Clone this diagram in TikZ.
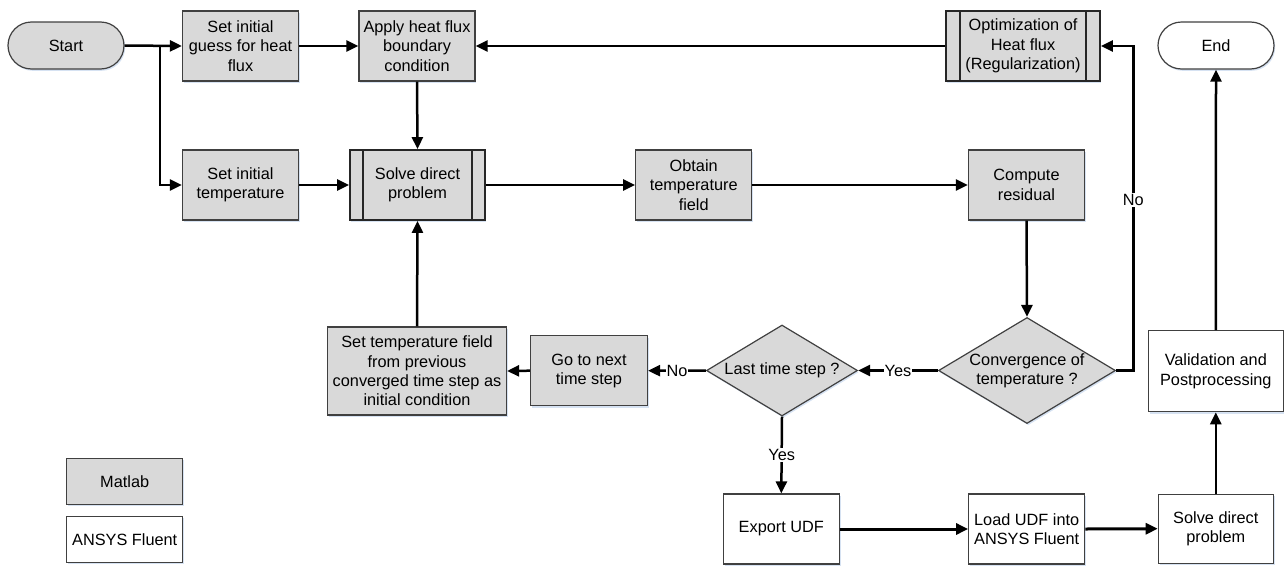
\documentclass[tikz,border=0pt]{standalone}
\usepackage{fontspec}
\setmainfont{Liberation Sans}
\usetikzlibrary{arrows.meta,shapes.geometric,calc,shadows}
\definecolor{boxgray}{RGB}{217,217,217}
\definecolor{edgegray}{RGB}{64,64,64}
\definecolor{shadowblue}{RGB}{214,226,242}
\begin{document}
\begin{tikzpicture}[x=1pt,y=-1pt, font=\fontsize{16.3}{19.3}\selectfont,
  shd/.style={drop shadow={shadow xshift=1.2pt, shadow yshift=-1.8pt, fill=shadowblue, opacity=1}},
  box/.style={draw=edgegray, line width=1.2pt, fill=boxgray, minimum width=116pt, minimum height=70pt, inner sep=2pt, align=center, shd},
  fbox/.style={box, fill=white},
  subp/.style={box, line width=1.8pt, draw=black!85},
  term/.style={draw=edgegray, line width=1.2pt, minimum width=116pt, minimum height=47pt, rounded corners=23.5pt, align=center, shd},
  dec/.style={diamond, draw=edgegray, line width=1.2pt, fill=boxgray, inner sep=0pt, align=center, shd},
  arr/.style={line width=2.5pt, -{Triangle[length=12pt,width=11pt]}},
  barr/.style={arr, line width=3pt},
  lab/.style={fill=white, inner sep=1pt}
]
\useasboundingbox (0,0) rectangle (1284,565);

% nodes
\node[term, fill=boxgray] (start) at (66,45.5) {Start};
\node[term, fill=white] (end) at (1216,45.5) {End};
\node[box] (guess) at (240.5,46) {Set initial\\guess for heat\\flux};
\node[box] (apply) at (417,46) {Apply heat flux\\boundary\\condition};
\node[subp, minimum width=154pt] (optim) at (1023,46) {Optimization of\\Heat flux\\(Regularization)};
\node[box] (settemp) at (240.5,185) {Set initial\\temperature};
\node[subp, minimum width=135pt] (solve) at (417.5,185) {Solve direct\\problem};
\node[box] (obtain) at (693.7,185) {Obtain\\temperature\\field};
\node[box] (resid) at (1026.5,185) {Compute\\residual};
\node[dec, aspect=1.67, minimum width=177pt, minimum height=106pt] (conv) at (1027,370.5) {Convergence of\\temperature ?};
\node[dec, aspect=1.66, minimum width=151pt, minimum height=91pt] (last) at (782,370.5) {Last time step ?};
\node[box, minimum width=117pt] (gonext) at (589,370.7) {Go to next\\time step};
\node[box, minimum width=179pt, minimum height=88pt] (setfield) at (417,371) {Set temperature field\\from previous\\converged time step as\\initial condition};
\node[fbox] (export) at (781.3,529) {Export UDF};
\node[fbox] (load) at (1026.7,529) {Load UDF into\\ANSYS Fluent};
\node[fbox, minimum width=115pt, minimum height=69pt] (solvef) at (1215.8,528.7) {Solve direct\\problem};
\node[fbox, minimum width=135pt, minimum height=81pt] (valid) at (1215.8,371.2) {Validation and\\Postprocessing};
\node[box, minimum height=46pt] (matlab) at (124.7,481.3) {Matlab};
\node[fbox, minimum height=46pt] (ansys) at (124.7,539.3) {ANSYS Fluent};

% subprocess inner lines
\foreach \n/\d in {solve/14pt, optim/15pt}{
  \draw[line width=1.8pt, draw=black!85] ([xshift=\d]\n.north west) -- ([xshift=\d]\n.south west);
  \draw[line width=1.8pt, draw=black!85] ([xshift=-\d]\n.north east) -- ([xshift=-\d]\n.south east);
}

% connectors
\coordinate (j) at (160,45.5);
\coordinate (c1) at (1133.3,46);
\draw[arr] (start.east) -- (guess.west);
\draw[arr] (j) |- (settemp.west);
\draw[arr] (guess.east) -- (apply.west);
\draw[arr] (apply.south) -- (solve.north);
\draw[arr] (settemp.east) -- (solve.west);
\draw[arr] (solve.east) -- (obtain.west);
\draw[arr] (obtain.east) -- (resid.west);
\draw[arr] (resid.south) -- (conv.north);
\draw[arr] (conv.east) -| (c1) -- (optim.east);
\node[lab] (nolab) at (1133.3,200) {No};
\draw[arr] (optim.west) -- (apply.east);
\draw[arr] (conv.west) -- node[lab] (yes1) {Yes} (last.east);
\draw[arr] (last.west) -- node[lab] (no2) {No} (gonext.east);
\draw[arr] (gonext.west) -- (setfield.east);
\draw[arr] (setfield.north) -- (solve.south);
\draw[arr] (last.south) -- node[lab] (yes2) {Yes} (export.north);
\draw[barr] (export.east) -- (load.west);
\draw[barr] (load.east) -- (solvef.west);
\draw[arr] (solvef.north) -- (valid.south);
\draw[arr] (valid.north) -- (end.south);
\end{tikzpicture}
\end{document}
